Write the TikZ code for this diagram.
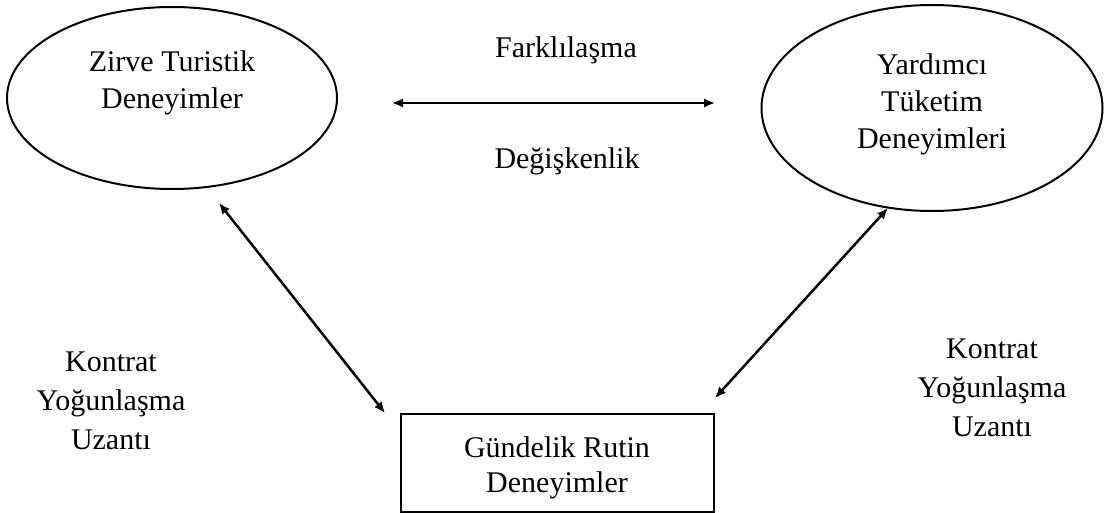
\documentclass[tikz,border=0pt]{standalone}
\usepackage{fontspec}
\setmainfont{Liberation Serif}
\usetikzlibrary{shapes.geometric,arrows.meta}

\begin{document}
\begin{tikzpicture}[x=0.4pt, y=-0.4pt, line width=0.8pt,
  every node/.style={font=\fontsize{12}{14.8}\selectfont, align=center, inner sep=0pt},
  oval/.style={draw, ellipse},
  routine/.style={draw, rectangle},
  biarrow/.style={line width=1pt, {Latex[length=4.4pt,width=3.8pt]}-{Latex[length=4.4pt,width=3.8pt]}}]
  \useasboundingbox (0,0) rectangle (1107,513);

  % ovals
  \node[oval, minimum width=132pt, minimum height=72.8pt] (zirve) at (172,98) {};
  \node[oval, minimum width=136.4pt, minimum height=82.4pt] (yardimci) at (932,108) {};
  \node (zirvetxt) at (172,83) {Zirve Turistik\\Deneyimler};
  \node (yardimcitxt) at (932,104) {Yardımcı\\Tüketim\\Deneyimleri};

  % routine box
  \node[routine, minimum width=125.2pt, minimum height=39.2pt] (gundelik) at (557,463) {};
  \node[font=\fontsize{12}{14}\selectfont] (gundeliktxt) at (557,468) {Gündelik Rutin\\Deneyimler};

  % labels
  \node[anchor=base] (fark) at (566,57) {Farklılaşma};
  \node[anchor=base] (degis) at (567,168) {Değişkenlik};
  \node[font=\fontsize{12}{15.6}\selectfont] (kontratL) at (111,401) {Kontrat\\Yoğunlaşma\\Uzantı};
  \node[font=\fontsize{12}{15.6}\selectfont] (kontratR) at (992,388) {Kontrat\\Yoğunlaşma\\Uzantı};

  % arrow ends
  \coordinate (h1) at (392,103);
  \coordinate (h2) at (715,103);
  \coordinate (l1) at (219,203);
  \coordinate (l2) at (385,413);
  \coordinate (r1) at (888,208);
  \coordinate (r2) at (715,398);

  \draw[biarrow] (h1) -- (h2);
  \draw[biarrow] (l1) -- (l2);
  \draw[biarrow] (r1) -- (r2);
\end{tikzpicture}
\end{document}
